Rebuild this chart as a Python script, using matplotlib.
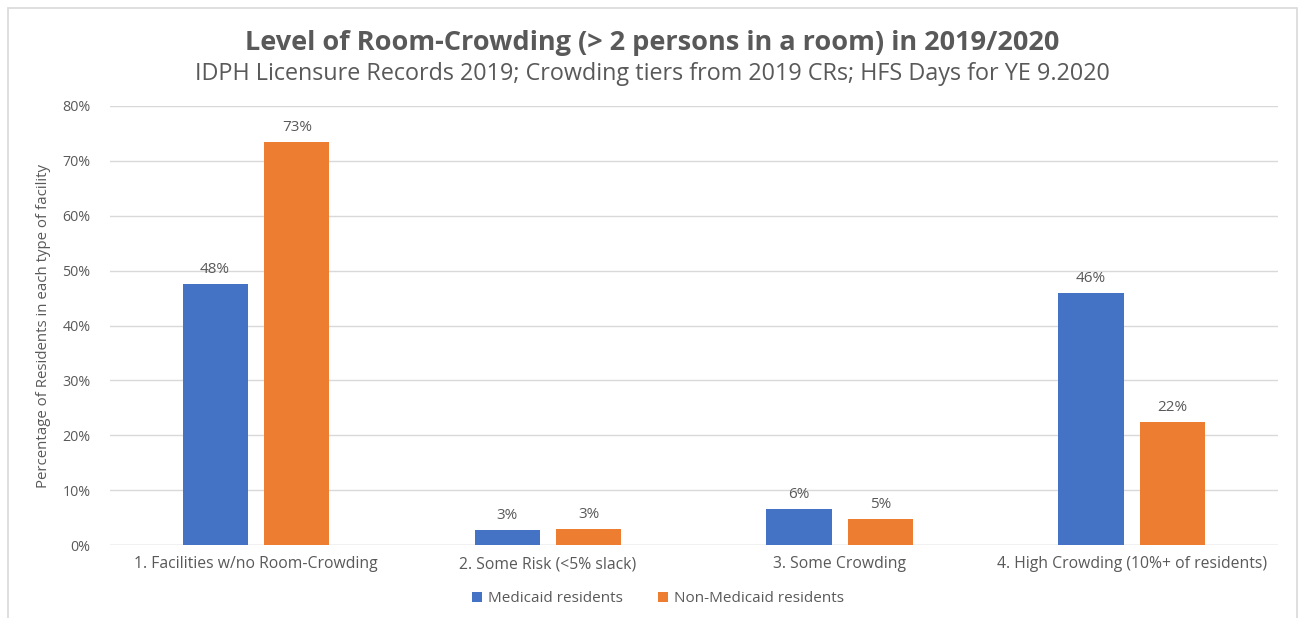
import matplotlib
matplotlib.use("Agg")
import matplotlib.pyplot as plt
import numpy as np
from matplotlib.patches import Rectangle

categories = ["1. Facilities w/no Room-Crowding", "2. Some Risk (<5% slack)",
              "3. Some Crowding", "4. High Crowding (10%+ of residents)"]
medicaid = [47.6, 2.8, 6.5, 45.9]
non_medicaid = [73.4, 3.0, 4.8, 22.5]
medicaid_labels = ["48%", "3%", "6%", "46%"]
non_medicaid_labels = ["73%", "3%", "5%", "22%"]
series_names = ["Medicaid residents", "Non-Medicaid residents"]
yticks = [0, 10, 20, 30, 40, 50, 60, 70, 80]

BLUE = "#4472C4"
ORANGE = "#ED7D31"
GRAY = "#595959"

plt.rcParams['font.family'] = ['Open Sans', 'DejaVu Sans']

fig = plt.figure(figsize=(13, 6.18), dpi=100)
ax = fig.add_axes([0.0846, 0.1181, 0.8984, 0.7104])

x = np.arange(len(categories))
w = 0.223
off = 0.14
b1 = ax.bar(x - off, medicaid, w, color=BLUE, label=series_names[0], zorder=3)
b2 = ax.bar(x + off, non_medicaid, w, color=ORANGE, label=series_names[1], zorder=3)

for bars, labs in ((b1, medicaid_labels), (b2, non_medicaid_labels)):
    for r, t in zip(bars, labs):
        ax.annotate(t, (r.get_x() + r.get_width() / 2, r.get_height()),
                    xytext=(0, 5), textcoords="offset points", ha="center", va="bottom",
                    fontsize=11, color=GRAY)

ax.set_xlim(-0.5, 3.5)
ax.set_ylim(0, 80)
ax.set_yticks(yticks)
ax.set_yticklabels([f"{v}%" for v in yticks])
ax.set_xticks(x)
ax.set_xticklabels(categories)
ax.tick_params(axis="both", length=0, colors=GRAY, labelsize=11.3)
ax.tick_params(axis="y", pad=14, labelsize=10.3)
ax.tick_params(axis="x", pad=8)
ax.grid(axis="y", color="#D9D9D9", linewidth=1, zorder=0)
for s in ax.spines.values():
    s.set_visible(False)
ax.axhline(0, color="#D9D9D9", linewidth=1, zorder=1)

ax.set_ylabel("Percentage of Residents in each type of facility", fontsize=10.8,
              color=GRAY, labelpad=8)

fig.text(0.502, 0.93, "Level of Room-Crowding (> 2 persons in a room) in 2019/2020",
         ha="center", va="center", fontsize=19.5, fontweight="bold", color=GRAY)
fig.text(0.502, 0.881, "IDPH Licensure Records 2019; Crowding tiers from 2019 CRs; HFS Days for YE 9.2020",
         ha="center", va="center", fontsize=16.8, color=GRAY)

leg = fig.legend(handles=[b1, b2], labels=series_names, loc="center",
                 bbox_to_anchor=(0.506, 0.031), ncol=2, frameon=False,
                 fontsize=11, handlelength=0.65, handleheight=0.65,
                 handletextpad=0.4, columnspacing=2.3)
for t in leg.get_texts():
    t.set_color(GRAY)

fig.patches.append(Rectangle((8 / 1300, -0.05), 1289 / 1300, 1.0 - 8 / 618 + 0.05,
                             transform=fig.transFigure, fill=False,
                             edgecolor="#D9D9D9", linewidth=1.2))

fig.savefig("out.png", dpi=100)
